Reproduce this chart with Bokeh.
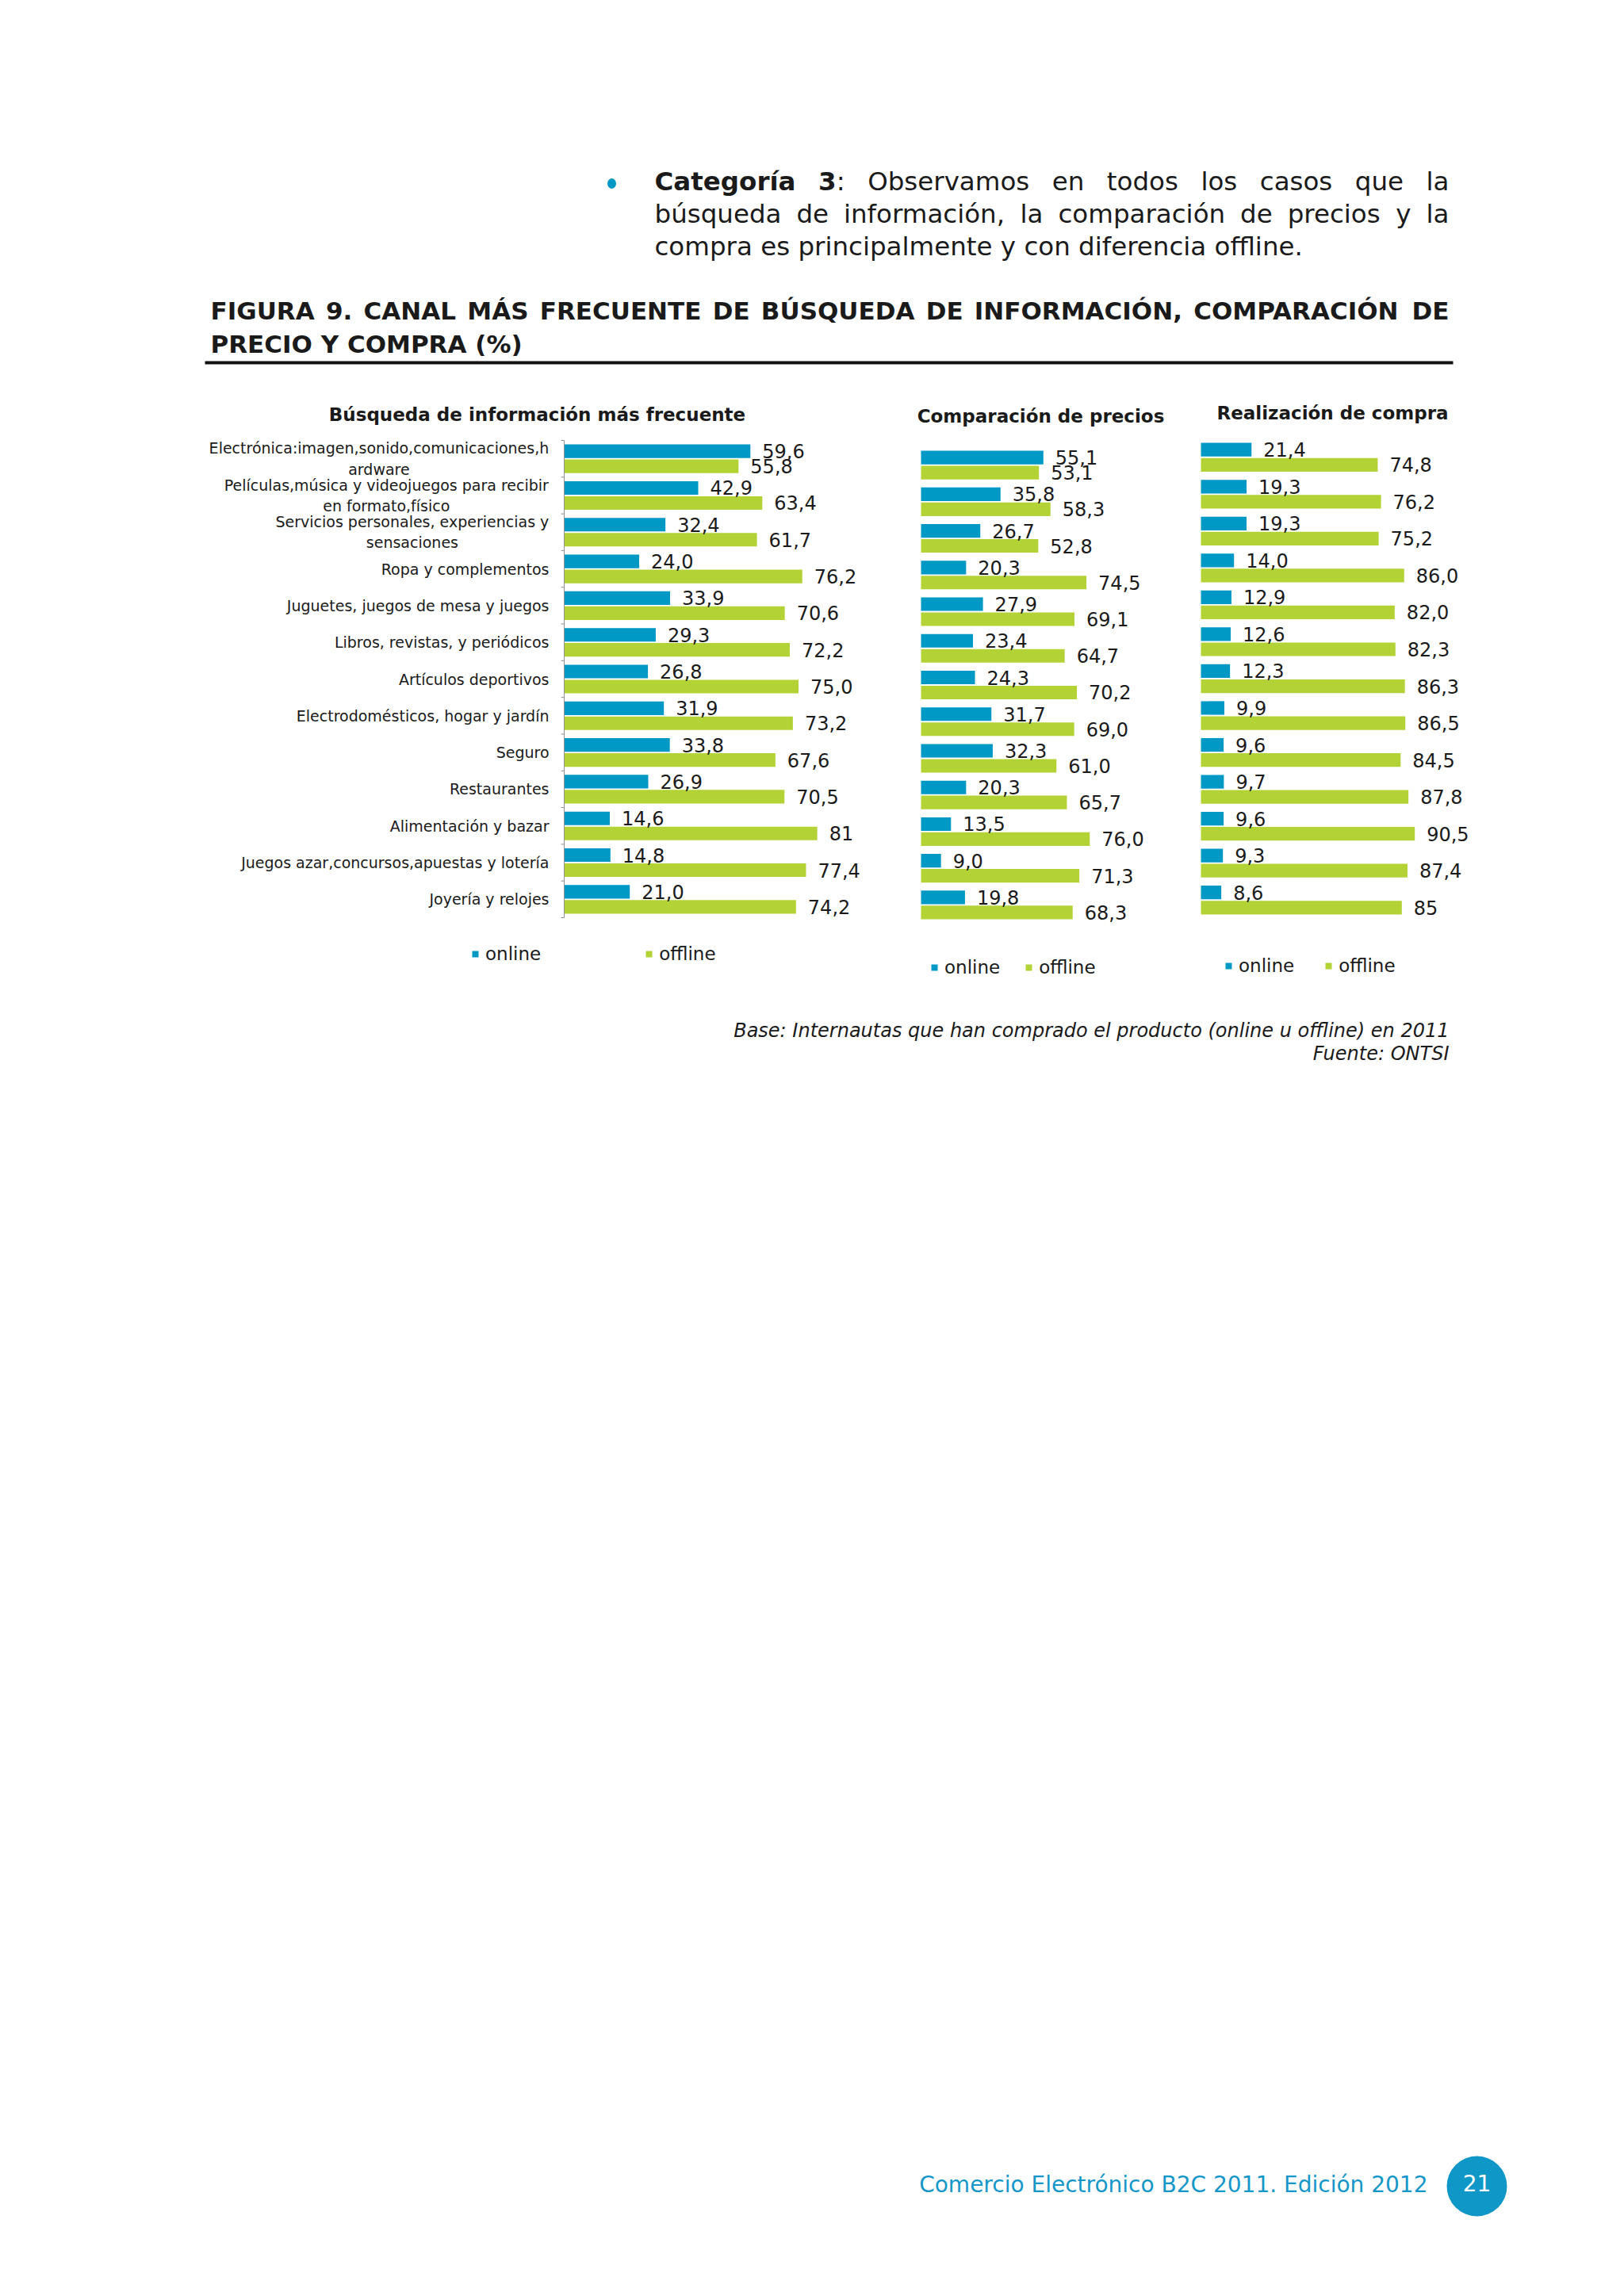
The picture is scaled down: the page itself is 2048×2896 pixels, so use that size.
from bokeh.plotting import figure
from bokeh.models import Range1d, FactorRange, ColumnDataSource, Legend, LegendItem
from bokeh.layouts import column, row
from bokeh.transform import dodge
from bokeh.core.properties import value
from bokeh.embed import file_html
from bokeh.resources import INLINE

# ---------------- data ----------------
categories = [
    "Electrónica:imagen,sonido,comunicaciones,hardware",
    "Películas,música y videojuegos para recibir en formato,físico",
    "Servicios personales, experiencias y sensaciones",
    "Ropa y complementos",
    "Juguetes, juegos de mesa y juegos",
    "Libros, revistas, y periódicos",
    "Artículos deportivos",
    "Electrodomésticos, hogar y jardín",
    "Seguro",
    "Restaurantes",
    "Alimentación y bazar",
    "Juegos azar,concursos,apuestas y lotería",
    "Joyería y relojes",
]
# label lines as printed on the axis (first line, second line)
category_lines = {
    "Electrónica:imagen,sonido,comunicaciones,hardware": ("Electrónica:imagen,sonido,comunicaciones,h", "ardware"),
    "Películas,música y videojuegos para recibir en formato,físico": ("Películas,música y videojuegos para recibir", "en formato,físico"),
    "Servicios personales, experiencias y sensaciones": ("Servicios personales, experiencias y", "sensaciones"),
}

series_names = ["online", "offline"]

busqueda_online = [59.6, 42.9, 32.4, 24.0, 33.9, 29.3, 26.8, 31.9, 33.8, 26.9, 14.6, 14.8, 21.0]
busqueda_offline = [55.8, 63.4, 61.7, 76.2, 70.6, 72.2, 75.0, 73.2, 67.6, 70.5, 81, 77.4, 74.2]

comparacion_online = [55.1, 35.8, 26.7, 20.3, 27.9, 23.4, 24.3, 31.7, 32.3, 20.3, 13.5, 9.0, 19.8]
comparacion_offline = [53.1, 58.3, 52.8, 74.5, 69.1, 64.7, 70.2, 69.0, 61.0, 65.7, 76.0, 71.3, 68.3]

compra_online = [21.4, 19.3, 19.3, 14.0, 12.9, 12.6, 12.3, 9.9, 9.6, 9.7, 9.6, 9.3, 8.6]
compra_offline = [74.8, 76.2, 75.2, 86.0, 82.0, 82.3, 86.3, 86.5, 84.5, 87.8, 90.5, 87.4, 85]

chart_titles = ["Búsqueda de información más frecuente", "Comparación de precios", "Realización de compra"]

# ---------------- style ----------------
BLUE = "#0099c6"
GREEN = "#b3d235"
TEAL = "#1497c8"
INK = "#1a1a1a"
AXIS = "#8f8f8f"
FONT = "DejaVu Sans"
PAGE_W = 2040
HEADER_H = 470
ROW_TOP = 470
ROW_H = 790
ROW_BORDER = 18
FOOTER_H = 1630

W_REG = {" ": .318, ",": .318, ".": .318, ":": .337, "A": .684, "B": .686, "C": .698, "E": .632,
         "J": .295, "L": .557, "O": .787, "P": .603, "R": .695, "S": .635,
         "a": .613, "b": .635, "c": .550, "d": .635, "e": .615, "f": .352, "g": .635, "h": .634,
         "i": .278, "j": .278, "l": .278, "m": .974, "n": .634, "o": .612, "p": .635, "q": .635,
         "r": .411, "s": .521, "t": .392, "u": .634, "v": .592, "x": .592, "y": .592, "z": .525,
         "á": .613, "é": .615, "í": .278, "ó": .612, "ú": .634}
W_BOLD = {" ": .348, ",": .380, ".": .380, ":": .400, "%": 1.002, "(": .457, ")": .457,
          "A": .774, "B": .762, "C": .734, "D": .830, "E": .683, "F": .683, "G": .821, "I": .372,
          "L": .637, "M": .995, "N": .837, "O": .850, "P": .733, "Q": .850, "R": .770, "S": .720,
          "T": .682, "U": .812, "Y": .724, "Á": .774, "Ó": .850, "Ú": .812,
          "a": .675, "c": .593, "e": .678, "g": .716, "í": .343, "o": .687, "r": .493, "t": .478}
for d in "0123456789":
    W_REG[d] = .636
    W_BOLD[d] = .696


def text_w(s, size, bold=False):
    tbl = W_BOLD if bold else W_REG
    return sum(tbl.get(ch, 0.6) for ch in s) * size


def justify(words, x0, x1, size):
    widths = [sum(text_w(t, size, b) for t, b in w) for w in words]
    gap = (x1 - x0 - sum(widths)) / (len(words) - 1)
    out = []
    x = x0
    for i, (w, wd) in enumerate(zip(words, widths)):
        if i == len(words) - 1 and len(w) == 1:
            out.append((x1, w[0][0], w[0][1], "right"))
        else:
            xx = x
            for t, b in w:
                out.append((xx, t, b, "left"))
                xx += text_w(t, size, b)
        x += wd + gap
    return out


def page_fig(height, y_top):
    p = figure(width=PAGE_W, height=height, x_range=Range1d(0, PAGE_W),
               y_range=Range1d(y_top + height, y_top), x_axis_location=None, y_axis_location=None,
               toolbar_location=None, output_backend="svg", min_border=0, outline_line_color=None)
    p.grid.visible = False
    return p


def draw_words(p, items, y, size, color=INK):
    for bold in (False, True):
        for align in ("left", "right"):
            sel = [it for it in items if it[2] == bold and it[3] == align]
            if not sel:
                continue
            p.text(x=[it[0] for it in sel], y=[y] * len(sel), text=[it[1] for it in sel],
                   text_font=value(FONT), text_font_size=f"{size}px", text_color=color,
                   text_font_style="bold" if bold else "normal", text_align=align,
                   text_baseline="alphabetic")


# ---------------- header ----------------
header = page_fig(HEADER_H, 0)
header.ellipse(x=[771], y=[231], width=11, height=13, fill_color=BLUE, line_color=None)

body1 = [[("Categoría", True)], [("3", True), (":", False)], [("Observamos", False)], [("en", False)],
         [("todos", False)], [("los", False)], [("casos", False)], [("que", False)], [("la", False)]]
body2 = [[(w, False)] for w in "búsqueda de información, la comparación de precios y la".split()]
draw_words(header, justify(body1, 825, 1827, 32.5), 228, 32.5)
draw_words(header, justify(body2, 825, 1827, 32.5), 269, 32.5)
draw_words(header, [(825, "compra es principalmente y con diferencia offline.", False, "left")], 310, 32.5)

title1 = [[(w, True)] for w in "FIGURA 9. CANAL MÁS FRECUENTE DE BÚSQUEDA DE INFORMACIÓN, COMPARACIÓN DE".split()]
draw_words(header, justify(title1, 265, 1827, 31), 391, 31)
draw_words(header, [(265, "PRECIO Y COMPRA (%)", True, "left")], 433, 31)
header.segment(x0=[258], y0=[457], x1=[1832], y1=[457], line_color="#111111", line_width=4)


# ---------------- charts ----------------
def fmt(v):
    return str(v) if isinstance(v, int) else f"{v:.1f}".replace(".", ",")


def make_chart(fig_left, fig_width, origin, scale, cat_top, cat_bottom, online, offline, title,
               title_cx, title_cy, legend_x, legend_center, legend_spacing, axis=False):
    n = len(categories)
    frame_top, frame_bottom = ROW_TOP, ROW_TOP + ROW_H - ROW_BORDER
    frame_h = frame_bottom - frame_top
    span = cat_bottom - cat_top
    row_px = span / n
    shift = ((frame_top + frame_bottom) / 2 - (cat_top + cat_bottom) / 2) / row_px
    p = figure(width=fig_width, height=ROW_H,
               x_range=Range1d(-(origin - fig_left) / scale, (fig_left + fig_width - origin) / scale),
               y_range=FactorRange(factors=categories[::-1], range_padding=frame_h / span - 1,
                                   range_padding_units="percent"),
               x_axis_location=None, y_axis_location=None, toolbar_location=None,
               output_backend="svg", min_border=0, min_border_bottom=ROW_BORDER,
               outline_line_color=None)
    p.grid.visible = False

    def at(field, d):
        return dodge(field, d + shift, range=p.y_range)

    src = ColumnDataSource(dict(cat=categories, online=online, offline=offline,
                                on_lbl=[fmt(v) for v in online], off_lbl=[fmt(v) for v in offline]))
    r_on = p.hbar(y=at("cat", 0.205), left=0, right="online", height=0.37,
                  source=src, fill_color=BLUE, line_color=None)
    r_off = p.hbar(y=at("cat", -0.205), left=0, right="offline", height=0.37,
                   source=src, fill_color=GREEN, line_color=None)
    for col, lbl, dy in (("online", "on_lbl", 0.205), ("offline", "off_lbl", -0.205)):
        p.text(x=col, y=at("cat", dy), text=lbl, source=src, x_offset=15,
               text_font=value(FONT), text_font_size="24px", text_color=INK,
               text_align="left", text_baseline="middle")
    # chart title, above the first category
    p.text(x=[(title_cx - origin) / scale], y=[n + shift + (cat_top - title_cy) / row_px], text=[title],
           text_font=value(FONT), text_font_size="23px", text_font_style="bold", text_color=INK,
           text_align="center", text_baseline="middle")
    if axis:
        ends = ColumnDataSource(dict(first=[categories[0]], last=[categories[-1]]))
        p.segment(x0=0, x1=0, y0=at("first", 0.5), y1=at("last", -0.5), source=ends, line_color=AXIS)
        p.segment(x0=0, x1=-1.0, y0=at("cat", 0.5), y1=at("cat", 0.5), source=src, line_color=AXIS)
        p.segment(x0=0, x1=-1.0, y0=at("last", -0.5), y1=at("last", -0.5), source=ends, line_color=AXIS)
        single = [c for c in categories if c not in category_lines]
        p.text(x=0, y=at("cat", 0), text="cat", source=ColumnDataSource(dict(cat=single)), x_offset=-19,
               text_font=value(FONT), text_font_size="19px", text_color=INK,
               text_align="right", text_baseline="middle")
        multi = [c for c in categories if c in category_lines]
        p.text(x=0, y=at("cat", 0), text="txt",
               source=ColumnDataSource(dict(
                   cat=multi,
                   txt=["\n".join(category_lines[c]) for c in multi],
                   xo=[-(19 + text_w(category_lines[c][0], 19) / 2) for c in multi])),
               x_offset="xo", text_font=value(FONT), text_font_size="19px", text_color=INK,
               text_align="center", text_baseline="middle", text_line_height=1.2)
    item_h = 28
    legend = Legend(items=[LegendItem(label=series_names[0], renderers=[r_on]),
                           LegendItem(label=series_names[1], renderers=[r_off])],
                    orientation="horizontal",
                    location=(legend_x - fig_left, frame_bottom - legend_center - item_h / 2),
                    glyph_width=10, glyph_height=10, label_height=item_h, label_standoff=8,
                    spacing=legend_spacing, padding=0, margin=0, border_line_color=None,
                    background_fill_alpha=0, label_text_font=FONT, label_text_font_size="23px",
                    label_text_color=INK)
    p.add_layout(legend)
    return p


fig1 = make_chart(0, 1140, 711, 3.94, 555, 1157, busqueda_online, busqueda_offline,
                  chart_titles[0], 677, 522, 594, 1203, 131, axis=True)
fig2 = make_chart(1140, 360, 1161, 2.80, 563, 1164, comparacion_online, comparacion_offline,
                  chart_titles[1], 1312, 524, 1173, 1220, 31)
fig3 = make_chart(1500, 540, 1514, 2.98, 553, 1158, compra_online, compra_offline,
                  chart_titles[2], 1680, 520, 1544, 1218, 38)

# ---------------- footer ----------------
footer = page_fig(FOOTER_H, ROW_TOP + ROW_H)
footer.text(x=[1827, 1827], y=[1299, 1328],
            text=["Base: Internautas que han comprado el producto (online u offline) en 2011", "Fuente: ONTSI"],
            text_font=value(FONT), text_font_size="24px", text_font_style="italic", text_color=INK,
            text_align="right", text_baseline="middle")
footer.text(x=[1800], y=[2755], text=["Comercio Electrónico B2C 2011. Edición 2012"],
            text_font=value(FONT), text_font_size="28px", text_color=TEAL,
            text_align="right", text_baseline="middle")
footer.circle(x=[1862], y=[2757], radius=38, fill_color="#0f97c7", line_color=None)
footer.text(x=[1862], y=[2753], text=["21"], text_font=value(FONT), text_font_size="28px",
            text_color="white", text_align="center", text_baseline="middle")

layout = column(header, row(fig1, fig2, fig3, spacing=0), footer, spacing=0)
open("out.html", "w").write(file_html(layout, INLINE))
